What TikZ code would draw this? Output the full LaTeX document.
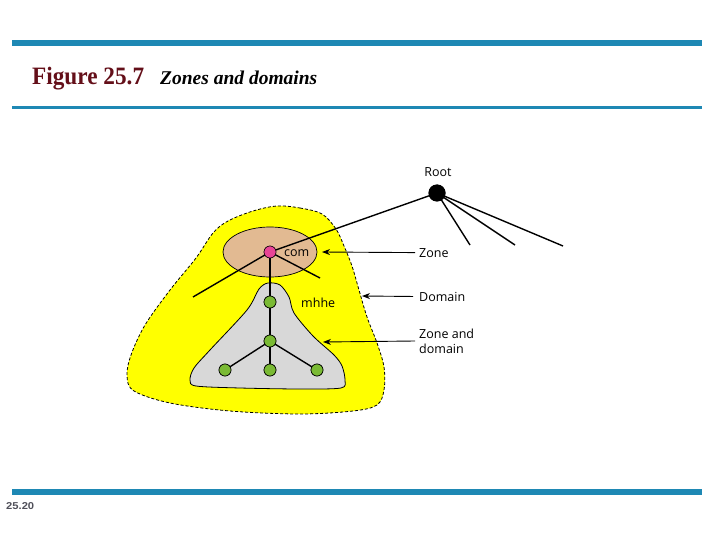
\documentclass[tikz,border=0pt]{standalone}
\usepackage{fontspec}
\usetikzlibrary{arrows.meta}
\newfontfamily\serifx{Liberation Serif}
\newfontfamily\labfont{Open Sans}
\newfontfamily\numfont{Liberation Sans}
\definecolor{barblue}{RGB}{30,136,180}
\definecolor{figred}{RGB}{100,15,25}
\definecolor{blobyellow}{RGB}{255,255,0}
\definecolor{tan}{RGB}{226,186,146}
\definecolor{zonegray}{RGB}{216,216,216}
\definecolor{pinknode}{RGB}{232,68,150}
\definecolor{greennode}{RGB}{122,186,52}
\definecolor{numgray}{RGB}{80,80,90}
\tikzset{
  bar/.style={fill=barblue, draw=none},
  treeline/.style={line width=1.4pt, black},
  gnode/.style={circle, fill=greennode, draw=black, line width=0.6pt, minimum size=12pt, inner sep=0pt},
  pnode/.style={circle, fill=pinknode, draw=black, line width=0.5pt, minimum size=12pt, inner sep=0pt},
  rootnode/.style={circle, fill=black, minimum size=17pt, inner sep=0pt},
  lab/.style={font=\labfont\fontsize{12.5}{15}\selectfont, inner sep=0pt, anchor=west, align=left},
  pointer/.style={line width=0.9pt, -{Stealth[length=8pt,width=6pt]}},
}
\begin{document}
\begin{tikzpicture}[x=1pt,y=-1pt]
\useasboundingbox (0,0) rectangle (720,540);
% bars
\fill[bar] (12,40) rectangle (702,46);
\fill[bar] (12,106) rectangle (702,109);
\fill[bar] (12,489) rectangle (702,495);
% title
\node[anchor=base west, inner sep=0pt, text=figred] (figt) at (32,85)
  {\serifx\fontsize{25}{27}\selectfont\bfseries\scalebox{0.93}[1]{Figure 25.7}};
\node[anchor=base west, inner sep=0pt] (figs) at (160,85)
  {\serifx\fontsize{19.5}{21}\selectfont\bfseries\itshape Zones and domains};
\node[anchor=base west, inner sep=0pt, text=numgray] (pg) at (6,509)
  {\numfont\fontsize{10}{12}\selectfont\bfseries\scalebox{1.12}[1]{25.20}};
% yellow domain blob
\draw[fill=blobyellow, dashed, dash pattern=on 3pt off 2pt, line width=0.8pt]
  plot[smooth cycle, tension=0.55] coordinates {
  (277,206) (300,208) (322,214) (336,229) (344,246) (352,266) (359,290)
  (367,317) (377,343) (384,367) (384,390) (377,405) (353,411) (300,414)
  (230,411) (170,403) (134,391) (127,376) (131,355) (145,325) (170,290)
  (196,258) (213,233) (228,221) (253,211)};
% zone ellipse
\draw[fill=tan, line width=0.7pt] (270,252) ellipse [x radius=47, y radius=25];
% zone-and-domain gray
\draw[fill=zonegray, line width=0.8pt]
  plot[smooth cycle, tension=0.5] coordinates {
  (268,283) (280,285) (289,297) (294,313) (313,336) (334,355) (342,366)
  (345,380) (341,388) (300,389) (240,388) (196,386) (190,380) (194,368)
  (210,350) (247,310) (259,289)};
% nodes
\node[rootnode] (root) at (437,193) {};
\node[pnode] (com) at (270,252) {};
\node[gnode] (g1) at (270,302) {};
\node[gnode] (g2) at (270,341) {};
\node[gnode] (g3) at (225,370) {};
\node[gnode] (g4) at (270,370) {};
\node[gnode] (g5) at (317,370) {};
\coordinate (r1) at (470,245);
\coordinate (r2) at (515,245);
\coordinate (r3) at (563,246);
\coordinate (c1) at (193,297);
\coordinate (c2) at (320,278);
% tree lines
\draw[treeline] (root.center) -- (r1);
\draw[treeline] (root.center) -- (r2);
\draw[treeline] (root.center) -- (r3);
\draw[treeline] (root.center) -- (com.center);
\draw[treeline] (com.center) -- (c1);
\draw[treeline] (com.center) -- (c2);
\draw[treeline] (com.center) -- (g4.center);
\draw[treeline] (g2.center) -- (g3.center);
\draw[treeline] (g2.center) -- (g5.center);
% redraw nodes on top
\node[rootnode] at (root) {};
\node[pnode] at (com) {};
\foreach \g in {g1,g2,g3,g4,g5} \node[gnode] at (\g) {};
% labels
\node[lab, anchor=base] (rootl) at (438,177) {Root};
\node[lab, anchor=base west] (coml) at (284,256) {com};
\node[lab, anchor=base west] (mhhe) at (301,307) {mhhe};
\node[lab, anchor=base west] (zone) at (419,257) {Zone};
\node[lab, anchor=base west] (domain) at (419,301) {Domain};
\node[lab, anchor=west] (zd) at (419,341) {Zone and\\domain};
\coordinate (za) at (322,252);
\coordinate (da) at (362,296);
\coordinate (zda) at (323,342);
\draw[pointer] ([xshift=-4pt]zone.west) -- (za);
\draw[pointer] ([xshift=-6pt]domain.west) -- (da);
\draw[pointer] ([xshift=-4pt]zd.west) -- (zda);
\end{tikzpicture}
\end{document}
